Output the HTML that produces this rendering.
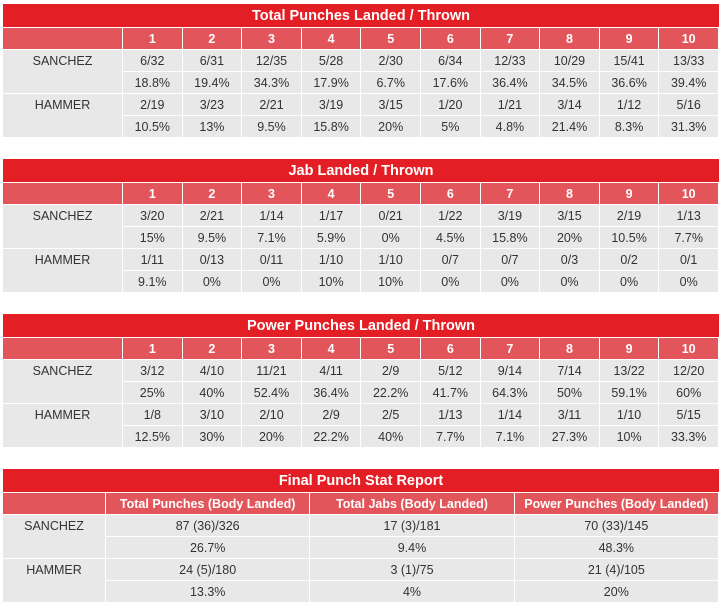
<!DOCTYPE html>
<html><head><meta charset="utf-8"><style>
body{margin:0;width:720px;height:602px;background:#fff;font-family:"Liberation Sans",sans-serif;position:relative;overflow:hidden}
.c{position:absolute;display:flex;align-items:center;justify-content:center;box-sizing:border-box;font-size:12.5px;color:#333}
.t{background:#e31e25;color:#fff;font-weight:bold;font-size:14.5px}
.h{background:#e1555b;color:#fff;font-weight:bold;font-size:12.5px}
.b{background:#e8e8e8}
</style></head><body>
<script>
const roundTitles=["Total Punches Landed / Thrown","Jab Landed / Thrown","Power Punches Landed / Thrown"];
const rounds=["1","2","3","4","5","6","7","8","9","10"];
const fighters=["SANCHEZ","HAMMER"];
const totalSan=["6/32","6/31","12/35","5/28","2/30","6/34","12/33","10/29","15/41","13/33"];
const totalSanPct=["18.8%","19.4%","34.3%","17.9%","6.7%","17.6%","36.4%","34.5%","36.6%","39.4%"];
const totalHam=["2/19","3/23","2/21","3/19","3/15","1/20","1/21","3/14","1/12","5/16"];
const totalHamPct=["10.5%","13%","9.5%","15.8%","20%","5%","4.8%","21.4%","8.3%","31.3%"];
const jabSan=["3/20","2/21","1/14","1/17","0/21","1/22","3/19","3/15","2/19","1/13"];
const jabSanPct=["15%","9.5%","7.1%","5.9%","0%","4.5%","15.8%","20%","10.5%","7.7%"];
const jabHam=["1/11","0/13","0/11","1/10","1/10","0/7","0/7","0/3","0/2","0/1"];
const jabHamPct=["9.1%","0%","0%","10%","10%","0%","0%","0%","0%","0%"];
const powSan=["3/12","4/10","11/21","4/11","2/9","5/12","9/14","7/14","13/22","12/20"];
const powSanPct=["25%","40%","52.4%","36.4%","22.2%","41.7%","64.3%","50%","59.1%","60%"];
const powHam=["1/8","3/10","2/10","2/9","2/5","1/13","1/14","3/11","1/10","5/15"];
const powHamPct=["12.5%","30%","20%","22.2%","40%","7.7%","7.1%","27.3%","10%","33.3%"];
const finalTitle="Final Punch Stat Report";
const finalCols=["Total Punches (Body Landed)","Total Jabs (Body Landed)","Power Punches (Body Landed)"];
const finalSan=["87 (36)/326","17 (3)/181","70 (33)/145"];
const finalSanPct=["26.7%","9.4%","48.3%"];
const finalHam=["24 (5)/180","3 (1)/75","21 (4)/105"];
const finalHamPct=["13.3%","4%","20%"];

function cell(x,y,w,h,cls,txt,name){
  const d=document.createElement('div');
  d.className='c '+cls;
  d.style.left=x+'px';d.style.top=y+'px';d.style.width=w+'px';d.style.height=h+'px';
  d.textContent=txt;
  
  
  document.body.appendChild(d);
}
function table(y0,title,cols,labelW,rowsData,key){
  const L=3,R=719,tw=R-L;
  cell(L,y0,tw,23,'t',title,key+'-title');
  const n=cols.length, cw=(R-(L+labelW))/n;
  const hy=y0+24;
  cell(L,hy,labelW-1,21,'h','',key+'-header-blank');
  cols.forEach((c,i)=>cell(L+labelW+i*cw,hy,cw-1,21,'h',c,key+'-header-'+(i+1)));
  let y=hy+22;
  fighters.forEach((f,fi)=>{
    cell(L,y+21,labelW-1,22,'b','',key+'-fighter-blank');
    cell(L,y,labelW-1,21,'b',f,key+'-fighter-'+f.toLowerCase());
    const vals=rowsData[fi*2],pcts=rowsData[fi*2+1];
    vals.forEach((v,i)=>cell(L+labelW+i*cw,y,cw-1,21,'b',v,key+'-'+f.toLowerCase()+'-value-'+(i+1)));
    pcts.forEach((v,i)=>cell(L+labelW+i*cw,y+22,cw-1,21,'b',v,key+'-'+f.toLowerCase()+'-pct-'+(i+1)));
    y+=44;
  });
}
table(4,roundTitles[0],rounds,120,[totalSan,totalSanPct,totalHam,totalHamPct],'total-punches');
table(159,roundTitles[1],rounds,120,[jabSan,jabSanPct,jabHam,jabHamPct],'jabs');
table(314,roundTitles[2],rounds,120,[powSan,powSanPct,powHam,powHamPct],'power-punches');
table(469,finalTitle,finalCols,103,[finalSan,finalSanPct,finalHam,finalHamPct],'final-report');
</script>
</body></html>
